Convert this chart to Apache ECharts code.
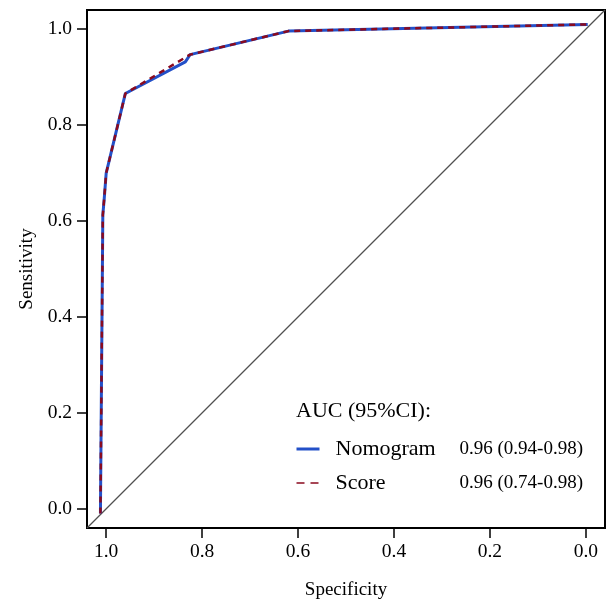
<!DOCTYPE html>
<html>
<head>
<meta charset="utf-8">
<script src="https://cdn.jsdelivr.net/npm/echarts@6/dist/echarts.min.js"></script>
<style>html,body{margin:0;padding:0;background:#fff;}#c{width:608px;height:601px;}</style>
</head>
<body>
<div id="c"></div>
<script>
// ---- data ----
var nomoSpec  = [1.012, 1.007, 1.004, 1.000, 0.960, 0.835, 0.825, 0.620, -0.004];
var nomoSens  = [-0.010, 0.613, 0.648, 0.700, 0.866, 0.932, 0.947, 0.996, 1.010];
var scoreSpec = [1.012, 1.007, 1.004, 1.000, 0.960, 0.825, 0.620, -0.004];
var scoreSens = [-0.010, 0.613, 0.648, 0.700, 0.866, 0.947, 0.996, 1.010];
var refSpec = [1.04, -0.04];
var refSens = [-0.04, 1.04];
var seriesNames = ['Nomogram', 'Score'];
var aucText = ['0.96 (0.94-0.98)', '0.96 (0.74-0.98)'];
var tickValues = [0, 0.2, 0.4, 0.6, 0.8, 1.0];
var legendTitle = 'AUC (95%CI):';

function zip(a, b) { return a.map(function (v, i) { return [v, b[i]]; }); }

var FONT = 'Liberation Serif';
var blue = '#2350C8';
var red = '#8B0A1E';

var chart = echarts.init(document.getElementById('c'), null, {renderer: 'canvas'});

function axisCommon(name) {
  return {
    type: 'value', min: -0.04, max: 1.04,
    splitLine: {show: false},
    axisLine: {show: false, onZero: false},
    axisTick: {show: true, customValues: tickValues, length: 10, lineStyle: {color: '#000', width: 1.5}},
    axisLabel: {customValues: tickValues, formatter: function (v) { return v.toFixed(1); },
      fontFamily: FONT, fontSize: 19.5, color: '#000'},
    name: name, nameLocation: 'middle',
    nameTextStyle: {fontFamily: FONT, fontSize: 19, color: '#000'}
  };
}

var xA = axisCommon('Specificity');
xA.inverse = true; xA.nameGap = 53; xA.axisLabel.margin = 14;
var yA = axisCommon('Sensitivity');
yA.nameGap = 49; yA.axisLabel.margin = 15;

var aucMap = {};
seriesNames.forEach(function (n, i) { aucMap[n] = aucText[i]; });

var hiddenSym = {color: 'rgba(0,0,0,0)', borderColor: 'rgba(0,0,0,0)', borderWidth: 0};

chart.setOption({
  animation: false,
  backgroundColor: '#fff',
  grid: {left: 87, top: 10, right: 3, bottom: 73, outerBoundsMode: 'none', containLabel: false,
    show: true, borderColor: '#000', borderWidth: 2, backgroundColor: 'transparent'},
  xAxis: xA,
  yAxis: yA,
  legend: {
    data: [
      {name: seriesNames[0], itemStyle: hiddenSym, lineStyle: {color: blue, width: 3, type: 'solid'}},
      {name: seriesNames[1], itemStyle: hiddenSym, lineStyle: {color: red, width: 1.5, type: [8, 6]}}
    ],
    orient: 'vertical', left: 295, top: 438, padding: 0,
    itemWidth: 23, itemHeight: 14, itemGap: 12,
    formatter: function (n) { return '{s| }{n|' + n + '}{v|' + aucMap[n] + '}'; },
    textStyle: {
      fontFamily: FONT, color: '#000',
      rich: {
        s: {width: 11, fontSize: 22},
        n: {width: 124, fontSize: 22, fontFamily: FONT, color: '#000'},
        v: {fontSize: 19, fontFamily: FONT, color: '#000'}
      }
    }
  },
  graphic: [{
    type: 'text', left: 296, top: 400,
    style: {text: legendTitle, fontFamily: FONT, fontSize: 22, fill: '#000'}
  }],
  series: [
    {type: 'line', name: 'ref', data: zip(refSpec, refSens), symbol: 'none', silent: true,
      lineStyle: {color: '#505050', width: 1.3}, z: 1},
    {type: 'line', name: seriesNames[0], data: zip(nomoSpec, nomoSens), symbol: 'none',
      lineStyle: {color: blue, width: 3}, itemStyle: {color: blue}, z: 2},
    {type: 'line', name: seriesNames[1], data: zip(scoreSpec, scoreSens), symbol: 'none',
      lineStyle: {color: red, width: 2.5, type: [6, 5]}, itemStyle: {color: red}, z: 3}
  ]
});
</script>
</body>
</html>
